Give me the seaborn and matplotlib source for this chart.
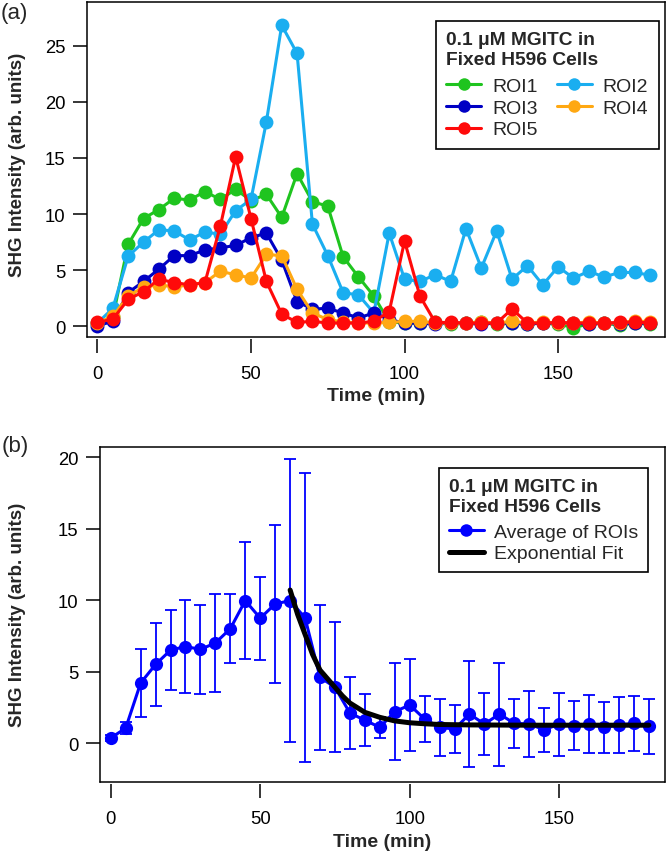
import numpy as np
import pandas as pd
import matplotlib
matplotlib.use("Agg")
import matplotlib.pyplot as plt
import seaborn as sns
from matplotlib.lines import Line2D

# ---------------- data ----------------
time_min = [0, 5, 10, 15, 20, 25, 30, 35, 40, 45, 50, 55, 60, 65, 70, 75, 80, 85, 90,
            95, 100, 105, 110, 115, 120, 125, 130, 135, 140, 145, 150, 155, 160, 165,
            170, 175, 180]

roi1 = [0.3, 0.8, 7.3, 9.6, 10.4, 11.4, 11.25, 12.0, 11.3, 12.2, 11.2, 11.75, 9.7, 13.6,
        11.1, 10.7, 6.2, 4.4, 2.7, 0.4, 0.3, 0.3, 0.4, 0.2, 0.3, 0.4, 0.2, 0.3, 0.2, 0.3,
        0.2, -0.1, 0.2, 0.3, 0.1, 0.3, 0.2]
roi2 = [0.3, 1.6, 6.25, 7.5, 8.6, 8.5, 7.7, 8.4, 8.2, 10.3, 11.3, 18.2, 26.8, 24.3, 9.1,
        6.3, 3.0, 2.8, 1.2, 8.3, 4.2, 4.0, 4.6, 4.0, 8.7, 5.2, 8.5, 4.2, 5.4, 3.7, 5.3,
        4.3, 4.9, 4.4, 4.8, 4.8, 4.55]
roi3 = [0.05, 0.45, 3.0, 4.0, 5.1, 6.3, 6.3, 6.8, 7.0, 7.2, 7.9, 8.3, 5.9, 2.2, 1.55,
        1.6, 1.2, 0.75, 1.2, 0.6, 0.3, 0.3, 0.2, 0.3, 0.3, 0.2, 0.3, 0.3, 0.2, 0.3, 0.3,
        0.3, 0.2, 0.3, 0.2, 0.3, 0.3]
roi4 = [0.3, 0.9, 2.7, 3.5, 3.7, 3.5, 3.7, 3.9, 4.9, 4.6, 4.3, 6.4, 6.3, 3.3, 1.2, 0.6,
        0.4, 0.3, 0.3, 0.35, 0.45, 0.45, 0.3, 0.3, 0.3, 0.4, 0.3, 0.45, 0.3, 0.4, 0.3,
        0.3, 0.4, 0.3, 0.3, 0.5, 0.4]
roi5 = [0.35, 0.65, 2.4, 3.1, 4.2, 3.9, 3.7, 3.9, 8.9, 15.1, 9.6, 4.0, 1.1, 0.35, 0.45,
        0.3, 0.3, 0.3, 0.45, 1.3, 7.6, 2.7, 0.35, 0.35, 0.3, 0.3, 0.3, 1.55, 0.3, 0.3,
        0.35, 0.3, 0.3, 0.3, 0.35, 0.4, 0.3]

avg_roi = [0.35, 1.05, 4.2, 5.5, 6.5, 6.75, 6.55, 7.0, 8.0, 9.96, 8.73, 9.73, 9.96, 8.75,
           4.6, 3.9, 2.1, 1.6, 1.1, 2.2, 2.66, 1.68, 1.1, 0.98, 2.03, 1.33, 2.03, 1.38,
           1.33, 0.93, 1.33, 1.21, 1.33, 1.1, 1.26, 1.38, 1.17]
avg_err = [0.2, 0.4, 2.35, 2.9, 2.8, 3.25, 3.1, 3.4, 2.4, 4.1, 2.9, 5.5, 9.9, 10.1, 5.06,
           4.55, 2.5, 1.8, 0.75, 3.4, 3.2, 1.6, 2.0, 1.7, 3.7, 2.17, 3.6, 1.7, 2.3, 1.55,
           2.2, 1.7, 2.0, 1.8, 1.98, 1.9, 1.9]

fit_time = [60, 62.5, 65, 67.5, 70, 72.5, 75, 77.5, 80, 85, 90, 95, 100, 105, 110, 120,
            140, 160, 180]
fit_val = [10.7, 9.0, 7.6, 6.2, 5.1, 4.5, 3.9, 3.3, 2.8, 2.15, 1.8, 1.55, 1.42, 1.35,
           1.3, 1.27, 1.25, 1.25, 1.25]

roi_names = ["ROI1", "ROI2", "ROI3", "ROI4", "ROI5"]
roi_colors = {"ROI1": "#1fc41f", "ROI2": "#1aaef0", "ROI3": "#0000c4",
              "ROI4": "#ffa812", "ROI5": "#ff0a0a"}
avg_color = "#0000ff"

legend_title = "0.1 \u03bcM MGITC in\nFixed H596 Cells"

# ---------------- styling ----------------
sns.set_theme(style="ticks")
plt.rcParams["font.family"] = ["Liberation Sans", "DejaVu Sans"]
plt.rcParams["axes.linewidth"] = 1.1

W, H = 666, 854
fig = plt.figure(figsize=(W / 100, H / 100), dpi=100)


def px_axes(l, t, r, b):
    return [l / W, 1 - b / H, (r - l) / W, (b - t) / H]


axA = fig.add_axes(px_axes(87, 2.7, 665, 337.5))
axB = fig.add_axes(px_axes(100, 448, 665, 782.7))

# ---------------- panel (a) ----------------
dfA = pd.DataFrame({
    "Time": time_min * 5,
    "SHG": roi1 + roi2 + roi3 + roi4 + roi5,
    "ROI": sum([[n] * len(time_min) for n in roi_names], []),
})
sns.lineplot(data=dfA, x="Time", y="SHG", hue="ROI", hue_order=roi_names,
             palette=roi_colors, marker="o", markersize=10, markeredgewidth=0,
             linewidth=2.2, errorbar=None, estimator=None, sort=False,
             legend=False, ax=axA)

# ---------------- panel (b) ----------------
axB.errorbar(time_min, avg_roi, yerr=avg_err, fmt="none", ecolor=avg_color,
             elinewidth=1.3, capsize=4.5, capthick=1.3, zorder=2)
dfB = pd.DataFrame({"Time": time_min, "SHG": avg_roi})
sns.lineplot(data=dfB, x="Time", y="SHG", color=avg_color, marker="o",
             markersize=9.5, markeredgewidth=0, linewidth=2.2, errorbar=None,
             legend=False, ax=axB, zorder=3)
dfF = pd.DataFrame({"Time": fit_time, "SHG": fit_val})
sns.lineplot(data=dfF, x="Time", y="SHG", color="black", linewidth=3.6,
             errorbar=None, legend=False, ax=axB, zorder=4)

# ---------------- axes formatting ----------------
for ax in (axA, axB):
    ax.set_xlim(-3.4, 184.8)
    ax.set_xticks([0, 50, 100, 150])
    ax.spines["bottom"].set_position(("outward", 1.5))
    ax.spines["bottom"].set_visible(False)
    ax.plot([0, 1], [0, 0], transform=ax.transAxes, color="black", lw=1.1,
            clip_on=False, zorder=10)
    for s in ("left", "top", "right"):
        ax.spines[s].set_color("black")
        ax.spines[s].set_linewidth(1.1)
    ax.tick_params(axis="both", direction="out", length=10, width=1.1,
                   colors="black", labelsize=13.3)
    ax.tick_params(axis="x", pad=9.0)
    ax.tick_params(axis="y", pad=5.5)
    ax.set_xlabel("Time (min)", fontsize=14, fontweight="bold")
    ax.set_ylabel("SHG Intensity (arb. units)", fontsize=13.5, fontweight="bold")
    ax.grid(False)

axA.set_ylim(-0.9, 28.9)
axA.set_yticks([0, 5, 10, 15, 20, 25])
axB.set_xlim(-3.6, 185.4)
axB.set_ylim(-2.7, 20.7)
axB.set_yticks([0, 5, 10, 15, 20])

axA.xaxis.set_label_coords(0.5, -0.15)
axB.xaxis.set_label_coords(0.5, -0.153)
axA.yaxis.set_label_coords((26 - 87) / 578, 0.515)
axB.yaxis.set_label_coords((26 - 100) / 565, 0.5)

# ---------------- legends ----------------
hA = [Line2D([], [], color=roi_colors[n], marker="o", markersize=9,
             markeredgewidth=0, linewidth=2.2) for n in roi_names]
order = [0, 2, 4, 1, 3]
legA = axA.legend([hA[i] for i in order], [roi_names[i] for i in order],
                  title=legend_title, ncol=2, loc="upper right",
                  bbox_to_anchor=(0.9896, 0.943), borderaxespad=0,
                  fontsize=14, title_fontproperties={"weight": "bold", "size": 13.8},
                  alignment="left", frameon=True, fancybox=False, framealpha=1,
                  edgecolor="black", handlelength=1.8, handletextpad=0.55,
                  columnspacing=1.0, labelspacing=0.22, borderpad=0.55, numpoints=1)
legA.get_frame().set_linewidth(1.2)
legA._legend_box.sep = 6.5

hB = [Line2D([], [], color=avg_color, marker="o", markersize=9, markeredgewidth=0,
             linewidth=2.2),
      Line2D([], [], color="black", linewidth=3.6)]
legB = axB.legend(hB, ["Average of ROIs", "Exponential Fit"], title=legend_title,
                  loc="upper right", bbox_to_anchor=(0.9704, 0.9364),
                  borderaxespad=0, fontsize=14,
                  title_fontproperties={"weight": "bold", "size": 13.8},
                  alignment="left", frameon=True, fancybox=False, framealpha=1,
                  edgecolor="black", handlelength=1.8, handletextpad=0.55,
                  labelspacing=0.22, borderpad=0.5, numpoints=1)
legB.get_frame().set_linewidth(1.2)
legB._legend_box.sep = 6.0

# ---------------- panel letters ----------------
fig.text(14 / W, 1 - 13 / H, "(a)", fontsize=16, ha="center", va="center")
fig.text(15 / W, 1 - 447 / H, "(b)", fontsize=16, ha="center", va="center")

fig.savefig("out.png", dpi=100)
